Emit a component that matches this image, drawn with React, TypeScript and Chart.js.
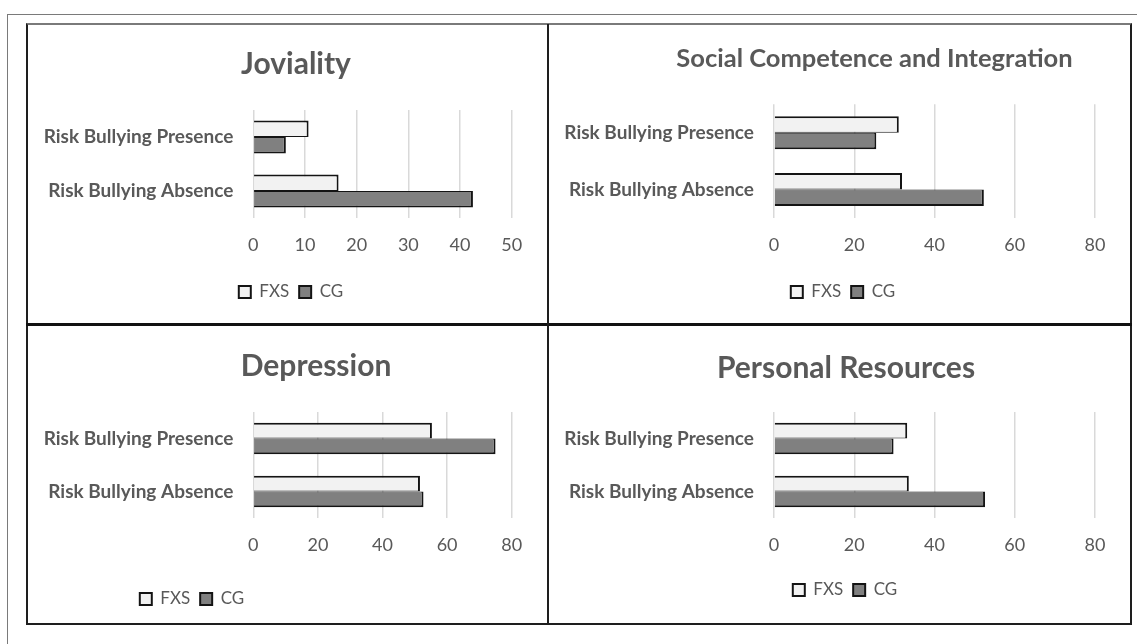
import React, { useEffect, useRef } from "react";
import { Chart, registerables } from "chart.js";

Chart.register(...registerables);
Chart.defaults.font.family = "Lato, 'Open Sans', sans-serif";

const categories = ["Risk Bullying Presence", "Risk Bullying Absence"];
const seriesNames = ["FXS", "CG"];

const jovialityFxs = [10.7, 16.5];
const jovialityCg = [6.3, 42.5];
const socialFxs = [31.1, 31.9];
const socialCg = [25.5, 52.3];
const depressionFxs = [55.3, 51.6];
const depressionCg = [75.0, 52.7];
const resourcesFxs = [33.2, 33.6];
const resourcesCg = [29.8, 52.6];

const jovialityTicks = [0, 10, 20, 30, 40, 50];
const scoreTicks = [0, 20, 40, 60, 80];

const TEXT = "#595959";
const LEGEND_H = 37; // item 17 + label padding 10 + 10

interface PanelConfig {
  title: string;
  fxs: number[];
  cg: number[];
  ticks: number[];
  left: number;
  top: number;
  width: number;
  height: number;
  plotLeft: number;
  plotRight: number;
  plotTop: number;
  plotBottom: number;
  titleSize: number;
  titleY: number;
  titleX: number;
  legendY: number;
  legendX: number;
  tickY: number;
  group: number;
}

const panels: PanelConfig[] = [
  {
    title: "Joviality", fxs: jovialityFxs, cg: jovialityCg, ticks: jovialityTicks,
    left: 28, top: 26, width: 519, height: 297,
    plotLeft: 225.3, plotRight: 483.7, plotTop: 84, plotBottom: 192,
    titleSize: 30, titleY: 38.5, titleX: 268, legendY: 266, legendX: 263, tickY: 219, group: 0.61,
  },
  {
    title: "Social Competence and Integration", fxs: socialFxs, cg: socialCg, ticks: scoreTicks,
    left: 549, top: 26, width: 581, height: 297,
    plotLeft: 225, plotRight: 546, plotTop: 78.3, plotBottom: 192,
    titleSize: 25.5, titleY: 33, titleX: 325.5, legendY: 266, legendX: 294, tickY: 219, group: 0.58,
  },
  {
    title: "Depression", fxs: depressionFxs, cg: depressionCg, ticks: scoreTicks,
    left: 28, top: 326, width: 519, height: 297,
    plotLeft: 225.3, plotRight: 483.7, plotTop: 86, plotBottom: 192,
    titleSize: 30, titleY: 40, titleX: 288, legendY: 273, legendX: 164, tickY: 219, group: 0.59,
  },
  {
    title: "Personal Resources", fxs: resourcesFxs, cg: resourcesCg, ticks: scoreTicks,
    left: 549, top: 326, width: 581, height: 297,
    plotLeft: 225, plotRight: 546, plotTop: 86, plotBottom: 192,
    titleSize: 30, titleY: 42, titleX: 297, legendY: 264, legendX: 296, tickY: 219, group: 0.59,
  },
];

// moves the title and legend boxes sideways so they sit where Excel put them
const nudgePlugin = {
  id: "nudge",
  afterLayout(chart: any, _args: any, opts: any) {
    const shift = (box: any, cx: number) => {
      if (!box || cx == null) return;
      const d = cx - (box.left + box.right) / 2;
      box.left += d;
      box.right += d;
    };
    shift(chart.titleBlock, opts.titleX);
    shift(chart.legend, opts.legendX);
  },
};

const Panel: React.FC<{ cfg: PanelConfig }> = ({ cfg }) => {
  const canvasRef = useRef<HTMLCanvasElement | null>(null);

  useEffect(() => {
    if (!canvasRef.current) return;
    const lh = cfg.titleSize * 1.2;
    const legendTop = cfg.legendY - 18.5;
    const xAxisHeight = legendTop - cfg.plotBottom;
    const tickPad = cfg.tickY - cfg.plotBottom - 18 * 1.2 / 2;

    const chart = new Chart(canvasRef.current, {
      type: "bar",
      data: {
        labels: categories,
        datasets: [
          {
            label: seriesNames[0],
            data: cfg.fxs,
            backgroundColor: "#f2f2f2",
            borderColor: "#141414",
            borderWidth: { top: 2, right: 2, bottom: 1, left: 0 },
            borderSkipped: false,
            categoryPercentage: cfg.group,
            barPercentage: 1,
          },
          {
            label: seriesNames[1],
            data: cfg.cg,
            backgroundColor: "#808080",
            borderColor: "#141414",
            borderWidth: { top: 1, right: 2, bottom: 2, left: 0 },
            borderSkipped: false,
            categoryPercentage: cfg.group,
            barPercentage: 1,
          },
        ],
      },
      options: {
        indexAxis: "y",
        animation: false,
        responsive: true,
        maintainAspectRatio: false,
        layout: {
          padding: {
            left: 0,
            right: cfg.width - cfg.plotRight,
            top: 0,
            bottom: cfg.height - legendTop - LEGEND_H,
          },
        },
        scales: {
          x: {
            min: 0,
            max: cfg.ticks[cfg.ticks.length - 1],
            afterBuildTicks: (scale: any) => {
              scale.ticks = cfg.ticks.map((v) => ({ value: v }));
            },
            afterFit: (scale: any) => {
              scale.height = xAxisHeight;
            },
            ticks: { color: TEXT, font: { size: 18 }, padding: tickPad },
            grid: { color: "#d9d9d9", lineWidth: 1.5, drawTicks: false },
            border: { display: false },
          },
          y: {
            afterFit: (scale: any) => {
              scale.width = cfg.plotLeft;
            },
            ticks: { color: TEXT, font: { size: 19, weight: "bold" }, padding: 20 },
            grid: { display: false, drawTicks: false },
            border: { display: false },
          },
        },
        plugins: {
          title: {
            display: true,
            text: cfg.title,
            color: TEXT,
            font: { size: cfg.titleSize, weight: "bold", lineHeight: 1.2 },
            padding: {
              top: cfg.titleY - lh / 2,
              bottom: cfg.plotTop - cfg.titleY - lh / 2,
            },
          },
          legend: {
            position: "bottom",
            labels: {
              boxWidth: 12,
              boxHeight: 12,
              color: TEXT,
              font: { size: 17 },
              padding: 10,
              generateLabels: (c: any) =>
                Chart.defaults.plugins.legend.labels
                  .generateLabels(c)
                  .map((item: any) => ({ ...item, lineWidth: 2 })),
            },
          },
          tooltip: { enabled: false },
          nudge: { titleX: cfg.titleX, legendX: cfg.legendX },
        } as any,
      },
      plugins: [nudgePlugin],
    } as any);

    return () => {
      chart.destroy();
    };
  }, [cfg]);

  return (
    <div
      style={{
        position: "absolute",
        left: cfg.left,
        top: cfg.top,
        width: cfg.width,
        height: cfg.height,
      }}
    >
      <canvas ref={canvasRef} />
    </div>
  );
};

export default function App() {
  return (
    <div
      style={{
        position: "fixed",
        inset: 0,
        overflow: "hidden",
        background: "#fff",
      }}
    >
      {/* outer page frame, runs off the right and bottom edge */}
      <div
        style={{
          position: "absolute",
          left: 7,
          top: 14,
          width: 1200,
          height: 700,
          borderTop: "1px solid #7a7a7a",
          borderLeft: "1px solid #7a7a7a",
        }}
      />
      {panels.map((p) => (
        <Panel key={p.title} cfg={p} />
      ))}
      {/* panel grid lines */}
      <div
        style={{
          position: "absolute",
          left: 26,
          top: 23,
          width: 1102,
          height: 598,
          borderTop: "2px solid #7a7a7a",
          borderLeft: "2px solid #1e1e1e",
          borderRight: "2px solid #1e1e1e",
          borderBottom: "2px solid #1e1e1e",
        }}
      />
      <div
        style={{ position: "absolute", left: 26, top: 323, width: 1106, height: 3, background: "#111" }}
      />
      <div
        style={{ position: "absolute", left: 547, top: 24, width: 2, height: 600, background: "#1e1e1e" }}
      />
    </div>
  );
}
